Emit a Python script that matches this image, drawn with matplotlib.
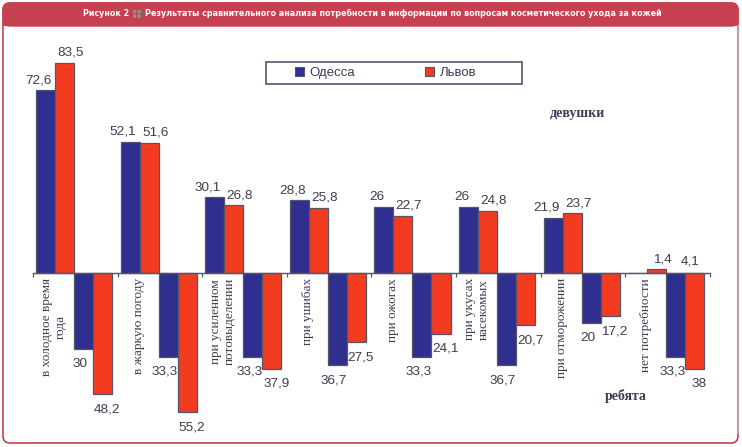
import matplotlib
matplotlib.use('Agg')
import matplotlib.pyplot as plt
from matplotlib.patches import FancyBboxPatch, Rectangle
from matplotlib.lines import Line2D
from matplotlib.transforms import IdentityTransform

# ---------------- data ----------------
categories = ["в холодное время\nгода", "в жаркую погоду", "при усиленном\nпотовыделении",
              "при ушибах", "при ожогах", "при укусах\nнасекомых", "при отморожении",
              "нет потребности"]
girls_odessa = [72.6, 52.1, 30.1, 28.8, 26, 26, 21.9, 0]
girls_lviv = [83.5, 51.6, 26.8, 25.8, 22.7, 24.8, 23.7, 1.4]
boys_odessa = [30, 33.3, 33.3, 36.7, 33.3, 36.7, 20, 33.3]
boys_lviv = [48.2, 55.2, 37.9, 27.5, 24.1, 20.7, 17.2, 38]
cities = ["Одесса", "Львов"]
group_labels = ["девушки", "ребята"]
stray_label_value = 4.1          # label printed above the last category in the source
stray_label_category = 7
title_num = "Рисунок 2"
title_text = "Результаты сравнительного анализа потребности в информации по вопросам косметического ухода за кожей"

# ---------------- style ----------------
W, H, DPI = 742, 447, 100
BLUE = '#2E2F8E'
RED = '#F23B1F'
EDGE = '#55556A'
TXT = '#3C3C52'
FRAME_RED = '#C6414F'

fig = plt.figure(figsize=(W / DPI, H / DPI), dpi=DPI)
fig.patch.set_facecolor('white')

# frame and title bar (pixel coordinates)
ident = IdentityTransform()
frame = FancyBboxPatch((3, 4), 735, 440, boxstyle="round,pad=0,rounding_size=7",
                       transform=ident, facecolor='none', edgecolor=FRAME_RED, lw=1.2, zorder=-5)
fig.patches.append(frame)
bar_top = FancyBboxPatch((3, H - 26), 735, 23, boxstyle="round,pad=0,rounding_size=7",
                         transform=ident, facecolor=FRAME_RED, edgecolor=FRAME_RED, lw=1, zorder=-4)
fig.patches.append(bar_top)
fig.patches.append(Rectangle((3, H - 26), 735, 12, transform=ident,
                             facecolor=FRAME_RED, edgecolor='none', zorder=-4))
fig.lines.append(Line2D([738, 738], [14, H - 26], transform=ident, color='#B8A2AA', lw=1.6, zorder=-3))

# axes
ax_left, ax_right, ax_top, ax_bottom = 10, 735, 30, 440
ax = fig.add_axes([ax_left / W, (H - ax_bottom) / H, (ax_right - ax_left) / W, (ax_bottom - ax_top) / H])
ax.set_facecolor('none')
px_per_x = 84.6
px_per_y = 2.52
zero_px = 273
tick0_px = 33
ax.set_xlim((ax_left - tick0_px) / px_per_x, (ax_right - tick0_px) / px_per_x)
ax.set_ylim(-(ax_bottom - zero_px) / px_per_y, (zero_px - ax_top) / px_per_y)

n = len(categories)
w = 0.225
start = 0.035
series = [
    (girls_odessa, 1, BLUE, -7),
    (girls_lviv, 1, RED, 6),
    (boys_odessa, -1, BLUE, -3.5),
    (boys_lviv, -1, RED, 4.5),
]
for k, (vals, sign, col, dx) in enumerate(series):
    xs = [i + start + w * (k + 0.5) for i in range(n)]
    hs = [sign * v for v in vals]
    ax.bar(xs, hs, width=w, color=col, edgecolor=EDGE, linewidth=0.9, zorder=3)
    for x, v in zip(xs, vals):
        if v == 0:
            continue
        s = f"{v:g}".replace('.', ',')
        dy = 10 if sign > 0 else -15
        ax.annotate(s, (x, sign * v), xytext=(dx * 0.72, dy * 0.72), textcoords='offset points',
                    ha='center', va='center', fontsize=9.7, color=TXT,
                    family=['Liberation Sans', 'DejaVu Sans'], zorder=5)

# stray label
ax.annotate(f"{stray_label_value:g}".replace('.', ','),
            (stray_label_category + start + w * 3.5, 0), xytext=(-3, 11 * 0.72),
            textcoords='offset points', ha='center', va='center', fontsize=9.7, color=TXT,
            family=['Liberation Sans', 'DejaVu Sans'], zorder=5)

# category labels
for i, lab in enumerate(categories):
    ax.annotate(lab, (i + 0.25, 0), xytext=(0, -5 * 0.72), textcoords='offset points',
                rotation=90, ha='center', va='top', multialignment='center',
                fontsize=9.5, color=TXT, family=['Liberation Serif', 'DejaVu Serif'], zorder=5)

# axis line at zero with ticks
for s in ['top', 'right', 'left']:
    ax.spines[s].set_visible(False)
ax.spines['bottom'].set_position(('data', 0))
ax.spines['bottom'].set_bounds(0, n)
ax.spines['bottom'].set_color(EDGE)
ax.spines['bottom'].set_linewidth(1.0)
ax.spines['bottom'].set_zorder(4)
ax.set_xticks(range(n + 1))
ax.set_xticklabels([])
ax.tick_params(axis='x', direction='out', length=3, width=0.9, color=EDGE)
ax.set_yticks([])

# group labels
fig.text(577 / W, 1 - 113 / H, group_labels[0], ha='center', va='center', fontsize=10,
         fontweight='bold', color=TXT, family=['Liberation Serif', 'DejaVu Serif'])
fig.text(626 / W, 1 - 396 / H, group_labels[1], ha='center', va='center', fontsize=10,
         fontweight='bold', color=TXT, family=['Liberation Serif', 'DejaVu Serif'])

# legend
fig.patches.append(Rectangle((266, H - 84), 256, 22, transform=ident, facecolor='white',
                             edgecolor='#45456A', lw=1.1, zorder=3))
handles = [Rectangle((0, 0), 1, 1, facecolor=BLUE, edgecolor=EDGE, lw=0.8),
           Rectangle((0, 0), 1, 1, facecolor=RED, edgecolor=EDGE, lw=0.8)]
leg = fig.legend(handles, cities, loc='center left', bbox_to_anchor=(295 / W, 1 - 73 / H),
                 ncol=2, frameon=False, handlelength=0.65, handleheight=0.65,
                 handletextpad=0.45, columnspacing=5.3, borderpad=0, borderaxespad=0,
                 prop={'family': ['Liberation Sans', 'DejaVu Sans'], 'size': 9.5})
for t in leg.get_texts():
    t.set_color(TXT)
leg.set_zorder(4)

# title with the grid glyph, sized to span the same width as the source
fig.canvas.draw()
r = fig.canvas.get_renderer()
tfam = ['DejaVu Sans']
ty = 1 - 13.5 / H
base_fs = 8.0
tkw = dict(ha='left', va='center', fontsize=base_fs, fontweight='bold', fontstretch='condensed',
           color='white', family=tfam, zorder=5)
t1 = fig.text(0, ty, title_num, **tkw)
t2 = fig.text(0, ty, title_text, **tkw)
glyph_w, gap = 8, 4
target = 583
w_text = t1.get_window_extent(r).width + t2.get_window_extent(r).width
fs = base_fs * (target - glyph_w - 2 * gap) / w_text
t1.set_fontsize(fs)
t2.set_fontsize(fs)
w1 = t1.get_window_extent(r).width
w2 = t2.get_window_extent(r).width
total = w1 + gap + glyph_w + gap + w2
x0 = 372 - total / 2
t1.set_x(x0 / W)
gx = x0 + w1 + gap
t2.set_x((gx + glyph_w + gap) / W)
gy = H - 13.5 - 4
for ddx in (0, 4.5):
    for ddy in (0, 4.5):
        fig.patches.append(Rectangle((gx + ddx, gy + ddy), 3.5, 3.5, transform=ident,
                                     facecolor='#8A8A90', edgecolor='none', zorder=5))

fig.savefig('out.png', dpi=DPI, facecolor='white')
